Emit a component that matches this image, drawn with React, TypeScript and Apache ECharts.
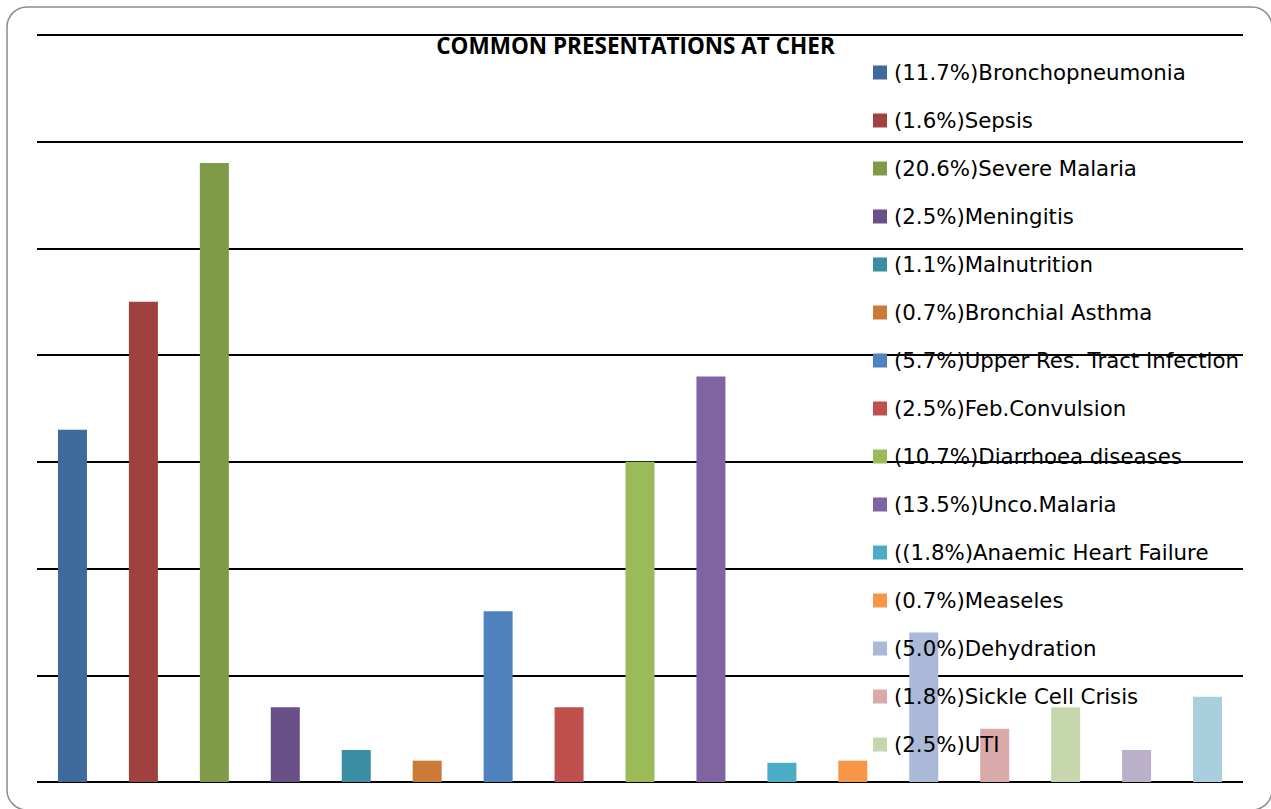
import React, { useEffect, useRef } from "react";
import * as echarts from "echarts";

const title = "COMMON PRESENTATIONS AT CHER";

const legendLabels = [
  "(11.7%)Bronchopneumonia",
  "(1.6%)Sepsis",
  "(20.6%)Severe Malaria",
  "(2.5%)Meningitis",
  "(1.1%)Malnutrition",
  "(0.7%)Bronchial Asthma",
  "(5.7%)Upper Res. Tract Infection",
  "(2.5%)Feb.Convulsion",
  "(10.7%)Diarrhoea diseases",
  "(13.5%)Unco.Malaria",
  "((1.8%)Anaemic Heart Failure",
  "(0.7%)Measeles",
  "(5.0%)Dehydration",
  "(1.8%)Sickle Cell Crisis",
  "(2.5%)UTI",
];

// two trailing bars have no legend entry in the original
const seriesNames = [...legendLabels, "Series 16", "Series 17"];

const values = [66, 90, 116, 14, 6, 4, 32, 14, 60, 76, 3.6, 4, 28, 10, 14, 6, 16];

const colors = [
  "#3F6A9C",
  "#9F413E",
  "#7F9B48",
  "#694F87",
  "#3B8DA4",
  "#CC7A37",
  "#4F81BD",
  "#C0504D",
  "#9BBB59",
  "#8064A2",
  "#4BACC6",
  "#F79646",
  "#AAB9D7",
  "#D9AAA9",
  "#C7D7AD",
  "#BAB0CA",
  "#A9CEDD",
];

const categories = seriesNames.map((_, i) => String(i + 1));

const yMin = 0;
const yMax = 140;
const yInterval = 20;

export default function App() {
  const ref = useRef<HTMLDivElement>(null);

  useEffect(() => {
    if (!ref.current) return;
    const chart = echarts.init(ref.current, undefined, { renderer: "svg" });

    const series = seriesNames.map((name, i) => ({
      name,
      type: "bar",
      barWidth: 29,
      barGap: "-100%",
      itemStyle: { color: colors[i] },
      data: values.map((v, j) => (j === i ? v : "-")),
    }));

    chart.setOption({
      animation: false,
      backgroundColor: "#ffffff",
      title: {
        text: title,
        left: "center",
        top: 29,
        textStyle: {
          fontFamily: "Open Sans",
          fontWeight: "bold",
          fontSize: 22.5,
          color: "#000",
        },
      },
      legend: {
        data: legendLabels,
        orient: "vertical",
        left: 873,
        top: 62,
        padding: 0,
        itemWidth: 14,
        itemHeight: 14,
        itemGap: 27.0,
        icon: "rect",
        selectedMode: false,
        textStyle: {
          fontFamily: "DejaVu Sans",
          fontSize: 21.3,
          lineHeight: 20,
          color: "#000",
          padding: [0, 0, 0, 2],
        },
      },
      grid: {
        left: 37,
        right: 28,
        top: 35,
        bottom: 27,
        containLabel: false,
      },
      xAxis: {
        type: "category",
        data: categories,
        axisLine: { show: false },
        axisTick: { show: false },
        axisLabel: { show: false },
      },
      yAxis: {
        type: "value",
        min: yMin,
        max: yMax,
        interval: yInterval,
        axisLine: { show: false },
        axisTick: { show: false },
        axisLabel: { show: false },
        splitLine: {
          show: true,
          lineStyle: { color: "#000", width: 2 },
        },
      },
      graphic: [
        {
          type: "rect",
          shape: { x: 7, y: 7, width: 1265, height: 803, r: 20 },
          style: { fill: "none", stroke: "#8c8c8c", lineWidth: 1.5 },
          silent: true,
          z: 100,
        },
      ],
      series,
    });

    return () => chart.dispose();
  }, []);

  return (
    <div
      ref={ref}
      style={{ position: "fixed", left: 0, top: 0, width: 1271, height: 809 }}
    />
  );
}
